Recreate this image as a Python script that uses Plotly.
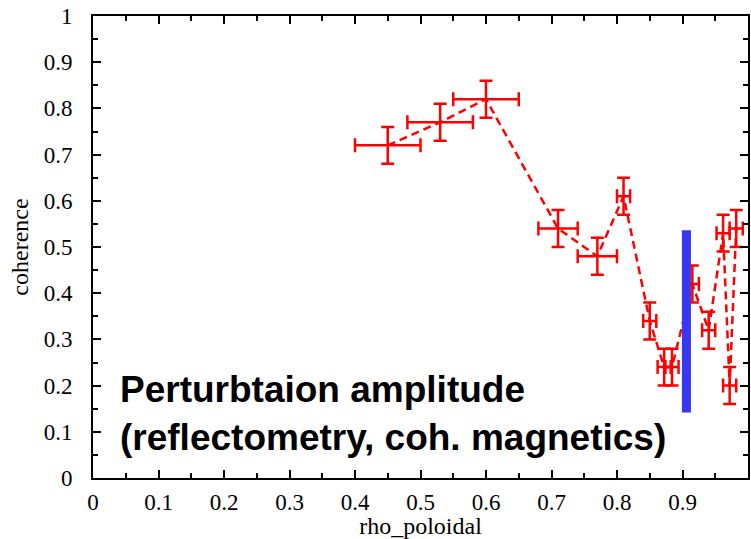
import plotly.graph_objects as go

# data: (rho_poloidal, coherence) with error bars, in plotting order
rho = [0.45, 0.53, 0.60, 0.71, 0.77, 0.81, 0.85, 0.872, 0.884, 0.915, 0.94, 0.962, 0.972, 0.982]
coh = [0.72, 0.77, 0.82, 0.54, 0.48, 0.61, 0.34, 0.24, 0.24, 0.42, 0.32, 0.53, 0.20, 0.54]
rho_err = [0.05, 0.05, 0.05, 0.03, 0.03, 0.01, 0.01, 0.01, 0.01, 0.01, 0.01, 0.01, 0.01, 0.01]
coh_err = [0.04, 0.04, 0.04, 0.04, 0.04, 0.04, 0.04, 0.04, 0.04, 0.04, 0.04, 0.04, 0.04, 0.04]

# blue marker bar
bar_rho = [0.906, 0.906]
bar_coh = [0.142, 0.536]

label_text = "<b>Perturbtaion amplitude<br>(reflectometry, coh. magnetics)</b>"

SERIF = "Liberation Serif, Times New Roman, serif"

fig = go.Figure()
fig.add_trace(go.Scatter(
    x=rho, y=coh, mode="lines",
    line=dict(color="#ff0000", width=2.5, dash="8px,5px"),
    error_x=dict(type="data", array=rho_err, color="#ff0000", thickness=2.5, width=7),
    error_y=dict(type="data", array=coh_err, color="#ff0000", thickness=2.5, width=6.5),
    showlegend=False,
))
fig.add_trace(go.Scatter(
    x=bar_rho, y=bar_coh, mode="lines",
    line=dict(color="#3838f0", width=9),
    showlegend=False,
))

axis_common = dict(
    range=[0, 1], showgrid=False, zeroline=False,
    showline=True, linecolor="black", linewidth=2, mirror="ticks",
    ticks="inside", ticklen=8, tickwidth=2, tickcolor="black",
    dtick=0.1, tick0=0,
    minor=dict(ticks="inside", ticklen=5, tickwidth=2, tickcolor="black", dtick=0.05),
    tickfont=dict(family=SERIF, size=23, color="black"),
)

fig.update_xaxes(**axis_common,
                 title=dict(text="rho_poloidal", font=dict(family=SERIF, size=24, color="black"), standoff=2),
                 ticklabelstandoff=2)
fig.update_yaxes(**axis_common,
                 title=dict(text="coherence", font=dict(family=SERIF, size=24, color="black"), standoff=8),
                 ticklabelstandoff=14)

fig.add_annotation(
    text=label_text, xref="paper", yref="paper", x=0.038, y=0.24,
    xanchor="left", yanchor="top", showarrow=False, align="left",
    font=dict(family="Liberation Sans, Arial, sans-serif", size=37, color="black"),
)

fig.update_layout(
    width=751, height=539,
    margin=dict(l=93, r=1, t=16, b=61),
    paper_bgcolor="white", plot_bgcolor="white",
    font=dict(family=SERIF, color="black"),
)

fig.write_html("out.html")
